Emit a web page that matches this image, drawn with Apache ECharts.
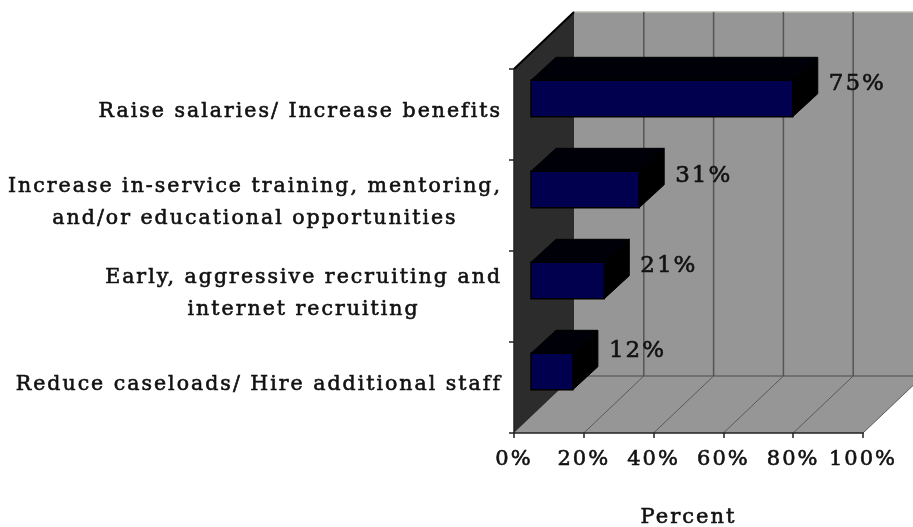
<!DOCTYPE html>
<html>
<head>
<meta charset="utf-8">
<style>html,body{margin:0;padding:0;background:#fff}#c{width:913px;height:527px}</style>
<script src="https://cdn.jsdelivr.net/npm/echarts@6/dist/echarts.min.js"></script>
</head>
<body>
<div id="c"></div>
<script>
var categories = [
  'Raise salaries/ Increase benefits',
  'Increase in-service training, mentoring,\nand/or educational opportunities',
  'Early, aggressive recruiting and\ninternet recruiting',
  'Reduce caseloads/ Hire additional staff'
];
var values = [75, 31, 21, 12];
var valueLabels = ['75%', '31%', '21%', '12%'];
var axisName = 'Percent';
var gridTicks = [0, 20, 40, 60, 80, 100];

// The reference type is very wide: widen the real text with canvas letter spacing.
var LETTER_SPACING = '2px';
var origGetContext = HTMLCanvasElement.prototype.getContext;
HTMLCanvasElement.prototype.getContext = function () {
  var ctx = origGetContext.apply(this, arguments);
  if (ctx && 'letterSpacing' in ctx) { ctx.letterSpacing = LETTER_SPACING; }
  return ctx;
};

var FONT = '"DejaVu Serif", serif';
var TEXT_COLOR = '#111';
var TEXT_WEIGHT = 0.6;
var WALL_DX = 60, WALL_DY = -57;   // depth of the 3D box
var BAR_DX = 25, BAR_DY = -23;     // depth of a bar
var BAR_OX = 17, BAR_OY = -16;     // bar offset from the front plane
var LABEL_NUDGE_Y = [4, 5, 4, -2];
var chart = echarts.init(document.getElementById('c'), null, {renderer: 'canvas'});

function poly(pts, fill, stroke, lw) {
  return {type: 'polygon', shape: {points: pts},
    style: {fill: fill, stroke: stroke || null, lineWidth: lw || 0}};
}
function line(a, b, color, lw) {
  return {type: 'line', shape: {x1: a[0], y1: a[1], x2: b[0], y2: b[1]},
    style: {stroke: color, lineWidth: lw || 1}};
}
function shift(p, dx, dy) { return [p[0] + dx, p[1] + dy]; }

function renderBox(params, api) {
  var n = categories.length;
  var band = api.size([0, 1])[1];
  var firstY = api.coord([0, 0])[1] - band / 2;
  var lastY = api.coord([0, n - 1])[1] + band / 2;
  var tl = [api.coord([0, 0])[0], firstY];
  var bl = [tl[0], lastY];
  var br = [api.coord([100, 0])[0], lastY];
  var tr = [br[0], firstY];
  var kids = [];
  kids.push(poly([shift(tl, WALL_DX, WALL_DY), shift(tr, WALL_DX, WALL_DY),
                  shift(br, WALL_DX, WALL_DY), shift(bl, WALL_DX, WALL_DY)], '#969696'));
  kids.push(line(shift(tl, WALL_DX, WALL_DY), shift(tr, WALL_DX, WALL_DY), '#bdbdb6', 1.5));
  kids.push(poly([bl, br, shift(br, WALL_DX, WALL_DY), shift(bl, WALL_DX, WALL_DY)], '#969696'));
  kids.push(poly([tl, shift(tl, WALL_DX, WALL_DY), shift(bl, WALL_DX, WALL_DY), bl], '#2c2c2c'));
  kids.push(line(tl, shift(tl, WALL_DX, WALL_DY), '#000', 2));
  gridTicks.forEach(function (t) {
    var x = api.coord([t, 0])[0];
    var f = [x, lastY];
    var b = shift(f, WALL_DX, WALL_DY);
    if (t > 0) kids.push(line(f, b, '#5a5a5a', 1));
    if (t > 0) kids.push(line(b, [b[0], firstY + WALL_DY], '#555', 1.5));
  });
  kids.push(line(shift(bl, WALL_DX, WALL_DY), shift(br, WALL_DX, WALL_DY), '#4a4a4a', 1));
  return {type: 'group', children: kids};
}

function renderBar(params, api) {
  var idx = api.value(0), val = api.value(1);
  var c = api.coord([val, idx]);
  var c0 = api.coord([0, idx]);
  var h = api.size([0, 1])[1] * 0.4;
  var x0 = c0[0] + BAR_OX, x1 = c[0] + BAR_OX;
  var y0 = c[1] + BAR_OY - h / 2, y1 = y0 + h;
  var kids = [
    poly([[x0, y0], [x0 + BAR_DX, y0 + BAR_DY], [x1 + BAR_DX, y0 + BAR_DY], [x1, y0]], '#000008', '#000', 1),
    poly([[x1, y0], [x1 + BAR_DX, y0 + BAR_DY], [x1 + BAR_DX, y1 + BAR_DY], [x1, y1]], '#000000', '#000', 1),
    poly([[x0, y0], [x1, y0], [x1, y1], [x0, y1]], '#00004e', '#000', 1.5),
    {type: 'text', z2: 10, style: {
      x: x1 + BAR_DX + 11, y: y0 + LABEL_NUDGE_Y[params.dataIndex], text: valueLabels[params.dataIndex],
      font: '23px ' + FONT, fill: TEXT_COLOR, stroke: TEXT_COLOR, lineWidth: TEXT_WEIGHT,
      align: 'left', verticalAlign: 'middle'
    }}
  ];
  return {type: 'group', children: kids};
}

chart.setOption({
  animation: false,
  backgroundColor: '#fff',
  grid: {left: 514, right: 50, top: 69, bottom: 94, containLabel: false, outerBoundsMode: 'none'},
  xAxis: {
    type: 'value', min: 0, max: 100, interval: 20, z: 5,
    name: axisName, nameLocation: 'middle', nameGap: 73,
    nameTextStyle: {fontFamily: FONT, fontSize: 21, color: TEXT_COLOR, textBorderColor: TEXT_COLOR, textBorderWidth: TEXT_WEIGHT},
    axisLine: {show: true, onZero: false, lineStyle: {color: '#222', width: 1.5}},
    axisTick: {show: true, length: 5, lineStyle: {color: '#222', width: 1.5}},
    splitLine: {show: false},
    axisLabel: {formatter: '{value}%', fontFamily: FONT, fontSize: 21, color: TEXT_COLOR,
      textBorderColor: TEXT_COLOR, textBorderWidth: TEXT_WEIGHT, margin: 15, hideOverlap: false}
  },
  yAxis: {
    type: 'category', inverse: true, data: categories, z: 5,
    axisLine: {show: true, onZero: false, lineStyle: {color: '#222', width: 1.5}},
    axisTick: {show: true, length: 5, alignWithLabel: false, lineStyle: {color: '#222', width: 1.5}},
    splitLine: {show: false},
    axisLabel: {
      margin: 12, align: 'right', interval: 0, color: TEXT_COLOR,
      formatter: function (v) {
        return v.split('\n').map(function (s) { return '{c|' + s + '}'; }).join('\n');
      },
      rich: {c: {align: 'center', fontFamily: FONT, fontSize: 20.5, lineHeight: 32, color: TEXT_COLOR,
        textBorderColor: TEXT_COLOR, textBorderWidth: TEXT_WEIGHT, padding: [0, 0, 5, 0]}}
    }
  },
  series: [
    {type: 'custom', name: 'box', coordinateSystem: 'cartesian2d', z: 1, silent: true,
      renderItem: renderBox, data: [[0, 0]], encode: {x: 0, y: 1}},
    {type: 'custom', name: 'bars', coordinateSystem: 'cartesian2d', z: 2, silent: true,
      renderItem: renderBar,
      data: values.map(function (v, i) { return [i, v]; }),
      encode: {x: 1, y: 0}}
  ]
});
</script>
</body>
</html>
